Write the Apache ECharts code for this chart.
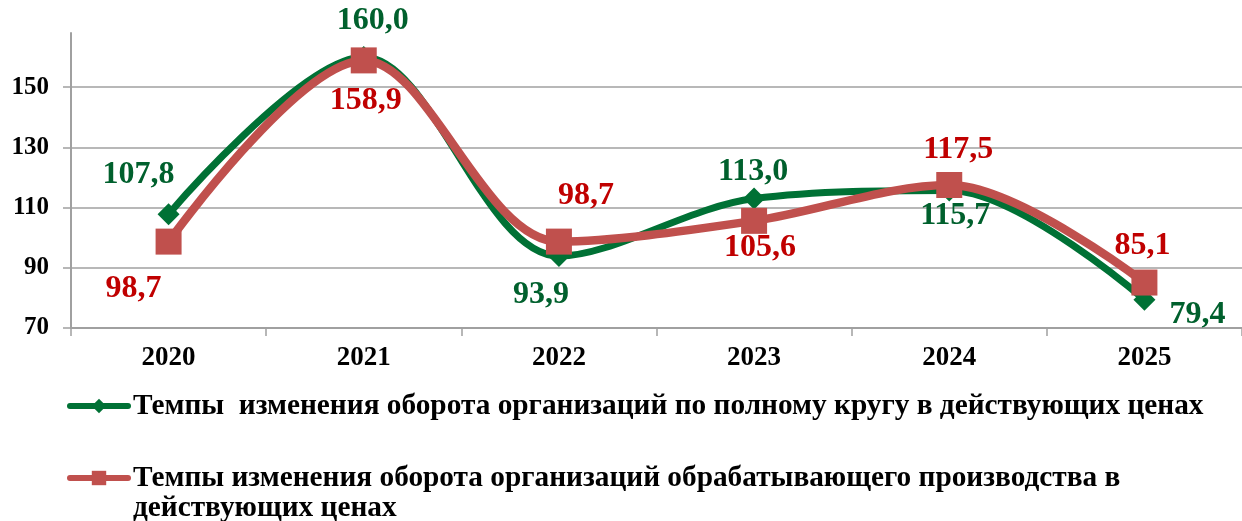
<!DOCTYPE html>
<html><head><meta charset="utf-8">
<script src="https://cdn.jsdelivr.net/npm/echarts@6/dist/echarts.min.js"></script>
<style>html,body{margin:0;padding:0;background:#fff}#c{width:1242px;height:521px}</style>
</head><body><div id="c"></div>
<script>
const categories = ['2020','2021','2022','2023','2024','2025'];
const totalTurnover = [107.8, 160.0, 93.9, 113.0, 115.7, 79.4];
const manufTurnover = [98.7, 158.9, 98.7, 105.6, 117.5, 85.1];
const yTicks = [70, 90, 110, 130, 150];
const nameTotal = 'Темпы  изменения оборота организаций по полному кругу в действующих ценах';
const nameManuf = 'Темпы изменения оборота организаций обрабатывающего производства в\nдействующих ценах';

// label offsets (styling)
const offTotal = [[-30,-39],[9,-36],[-18,39],[-1,-27],[6,25],[53,15]];
const offManuf = [[-35,47],[2,40],[27,-46],[6,27],[9,-35],[-2,-37]];

const FONT = '"Liberation Serif", "Times New Roman", serif';
const GREEN = '#007135', GREEN_T = '#00602D', RED = '#C0504D', RED_T = '#C00000';

function mk(vals, offs) {
  return vals.map((v, i) => ({ value: v, label: { offset: offs[i] } }));
}

const chart = echarts.init(document.getElementById('c'), null, {renderer: 'canvas'});
chart.setOption({
  animation: false,
  textStyle: { fontFamily: FONT },
  grid: { left: 71, right: -7, top: 33, bottom: 193, containLabel: false },
  xAxis: {
    type: 'category', data: categories, boundaryGap: true,
    axisLine: { lineStyle: { color: '#A0A0A0', width: 2 } },
    axisTick: { show: true, length: 8, lineStyle: { color: '#A0A0A0', width: 1.5 } },
    axisLabel: { color: '#000', fontFamily: FONT, fontWeight: 'bold', fontSize: 27, margin: 17 },
    splitLine: { show: false }
  },
  yAxis: {
    type: 'value', min: 70, max: 168, interval: 20,
    axisLine: { show: true, lineStyle: { color: '#A0A0A0', width: 2 } },
    axisTick: { show: true, length: 8, lineStyle: { color: '#A0A0A0', width: 1.5 } },
    axisLabel: { color: '#000', fontFamily: FONT, fontWeight: 'bold', fontSize: 25, margin: 22, showMaxLabel: false,
      formatter: v => yTicks.includes(v) ? String(v) : '' },
    splitLine: { show: true, lineStyle: { color: ['#A0A0A0','#A0A0A0','#A0A0A0','#A0A0A0','#A0A0A0','rgba(0,0,0,0)'], width: 1.5 } }
  },
  legend: {
    orient: 'vertical', left: 62, top: 386, height: 300, itemWidth: 58, itemHeight: 18, itemGap: 12,
    lineStyle: { width: 6, cap: 'round' },
    textStyle: { color: '#000', fontFamily: FONT, fontWeight: 'bold', fontSize: 29.3, lineHeight: 30 },
    formatter: name => name === nameManuf ? '\n' + name : name,
    data: [ { name: nameTotal }, { name: nameManuf } ]
  },
  series: [
    {
      name: nameTotal, type: 'line', smooth: 0.33, data: mk(totalTurnover, offTotal),
      symbol: 'diamond', symbolSize: 22,
      lineStyle: { color: GREEN, width: 7 }, itemStyle: { color: GREEN },
      label: { show: true, position: 'inside', color: GREEN_T, fontFamily: FONT, fontWeight: 'bold', fontSize: 32,
        formatter: p => p.value.toFixed(1).replace('.', ',') },
      z: 2
    },
    {
      name: nameManuf, type: 'line', smooth: 0.33, data: mk(manufTurnover, offManuf),
      symbol: 'rect', symbolSize: 26,
      lineStyle: { color: RED, width: 8.5 }, itemStyle: { color: RED },
      label: { show: true, position: 'inside', color: RED_T, fontFamily: FONT, fontWeight: 'bold', fontSize: 32,
        formatter: p => p.value.toFixed(1).replace('.', ',') },
      z: 3
    }
  ]
});
</script></body></html>
